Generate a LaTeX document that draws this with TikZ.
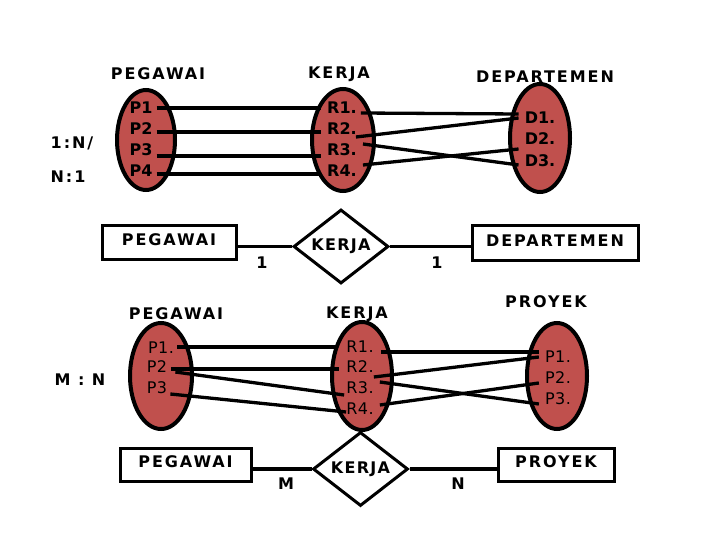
\documentclass[tikz,border=0pt]{standalone}
\usepackage{fontspec}
\setmainfont{DejaVu Sans}
\usetikzlibrary{shapes.geometric,calc}
\definecolor{ered}{RGB}{192,80,77}
\begin{document}
\begin{tikzpicture}[x=1pt,y=-1pt,
  set/.style={ellipse, draw, fill=ered, line width=4pt, inner sep=0pt},
  lbl/.style={font=\fontsize{16}{16}\selectfont\bfseries\addfontfeature{LetterSpace=12}, inner sep=0pt},
  itm/.style={font=\fontsize{16}{16}\selectfont\bfseries, inner sep=0pt},
  itmr/.style={font=\fontsize{16}{16}\selectfont\addfontfeature{LetterSpace=3}, inner sep=0pt},
  link/.style={line width=3.3pt},
  ent/.style={draw, line width=3pt, inner sep=0pt, text depth=5pt, font=\fontsize{16}{16}\selectfont\bfseries\addfontfeature{LetterSpace=12}},
  rel/.style={diamond, draw, line width=3pt, fill=white, inner sep=0pt, font=\fontsize{16}{16}\selectfont\bfseries\addfontfeature{LetterSpace=8}}]
\useasboundingbox (0,0) rectangle (720,540);
% ---------- top: 1:N / N:1 ----------
\node[lbl] (lp1) at (158,74) {PEGAWAI};
\node[lbl] (lk1) at (339,74) {KERJA};
\node[lbl] (ld1) at (545,77) {DEPARTEMEN};
\node[lbl] (c1) at (72,143) {1:N/};
\node[lbl] (c2) at (68,177) {N:1};
\node[set, minimum width=58pt, minimum height=100pt] (eP) at (146,140) {};
\node[set, minimum width=62pt, minimum height=102pt] (eK) at (343,140) {};
\node[set, minimum width=60pt, minimum height=108pt] (eD) at (540,138) {};
\node[itm] (p1) at (141,108) {P1};
\node[itm] (p2) at (141,129) {P2};
\node[itm] (p3) at (141,150) {P3};
\node[itm] (p4) at (141,171) {P4};
\node[itm] (r1) at (342,108) {R1.};
\node[itm] (r2) at (342,129) {R2.};
\node[itm] (r3) at (342,150) {R3.};
\node[itm] (r4) at (342,171) {R4.};
\node[itm] (d1) at (540,118) {D1.};
\node[itm] (d2) at (540,139) {D2.};
\node[itm] (d3) at (540,161) {D3.};
\draw[link] ($(p1.east)+(4,0)$) -- ($(r1.west)+(-6,0)$);
\draw[link] ($(p2.east)+(4,3)$) -- ($(r2.west)+(-6,3)$);
\draw[link] ($(p3.east)+(4,6)$) -- ($(r3.west)+(-6,6)$);
\draw[link] ($(p4.east)+(4,3)$) -- ($(r4.west)+(-6,3)$);
\draw[link] ($(r1.east)+(4,5)$) -- ($(d1.west)+(-6,-4)$);
\draw[link] ($(r2.east)+(-1,8)$) -- ($(d1.west)+(-6,0)$);
\draw[link] ($(r3.east)+(6,-6)$) -- ($(d3.west)+(-6,4)$);
\draw[link] ($(r4.east)+(6,-6)$) -- ($(d2.west)+(-6,10)$);
% ---------- ER 1:1 ----------
\node[ent, minimum width=134pt, minimum height=33pt] (E1) at (169,242.5) {PEGAWAI};
\node[rel, minimum width=95pt, minimum height=63pt] (R1) at (341,246.5) {KERJA};
\node[ent, minimum width=166pt, minimum height=34pt] (E2) at (555,243) {DEPARTEMEN};
\draw[link] (R1.west) -- (R1.west -| E1.east);
\draw[link] (R1.east) -- (R1.east -| E2.west);
\node[lbl] (n1) at (262,263) {1};
\node[lbl] (n2) at (437,263) {1};
% ---------- bottom: M:N ----------
\node[lbl] (lp2) at (176,314) {PEGAWAI};
\node[lbl] (lk2) at (357,314) {KERJA};
\node[lbl] (lj2) at (546,302) {PROYEK};
\node[lbl] (c3) at (80,380) {M : N};
\node[set, minimum width=62pt, minimum height=106pt] (eP2) at (161,376) {};
\node[set, minimum width=60pt, minimum height=108pt] (eK2) at (362,376) {};
\node[set, minimum width=60pt, minimum height=106pt] (eJ) at (557,376) {};
\node[itmr] (q1) at (161,348) {P1.};
\node[itmr] (q2) at (157,367) {P2};
\node[itmr] (q3) at (157,388) {P3};
\node[itmr] (s1) at (360,347) {R1.};
\node[itmr] (s2) at (360,367) {R2.};
\node[itmr] (s3) at (360,388) {R3.};
\node[itmr] (s4) at (360,409) {R4.};
\node[itmr] (j1) at (558,357) {P1.};
\node[itmr] (j2) at (558,378) {P2.};
\node[itmr] (j3) at (558,399) {P3.};
\draw[link] ($(q1.east)+(3,-1)$) -- ($(s1.west)+(-8,0)$);
\draw[link] ($(q2.east)+(4,2)$) -- ($(s2.west)+(-7,2)$);
\draw[link] ($(q2.east)+(8,5)$) -- ($(s3.west)+(-2,7)$);
\draw[link] ($(q3.east)+(3,6)$) -- ($(s4.west)+(0,3)$);
\draw[link] ($(s1.east)+(7,5)$) -- ($(j1.west)+(-6,-5)$);
\draw[link] ($(s2.east)+(0,10)$) -- ($(j1.west)+(-6,0)$);
\draw[link] ($(s3.east)+(6,-6)$) -- ($(j3.west)+(-6,5)$);
\draw[link] ($(s4.east)+(6,-4)$) -- ($(j2.west)+(-6,5)$);
% ---------- ER M:N ----------
\node[ent, minimum width=131pt, minimum height=33pt] (E3) at (185.5,464.5) {PEGAWAI};
\node[rel, minimum width=95pt, minimum height=60pt] (R2) at (360.5,469) {KERJA};
\node[ent, minimum width=116pt, minimum height=33pt] (E4) at (556,464.5) {PROYEK};
\draw[link] (R2.west) -- (R2.west -| E3.east);
\draw[link] (R2.east) -- (R2.east -| E4.west);
\node[lbl] (m1) at (286,484) {M};
\node[lbl] (m2) at (458,484) {N};
\end{tikzpicture}
\end{document}
